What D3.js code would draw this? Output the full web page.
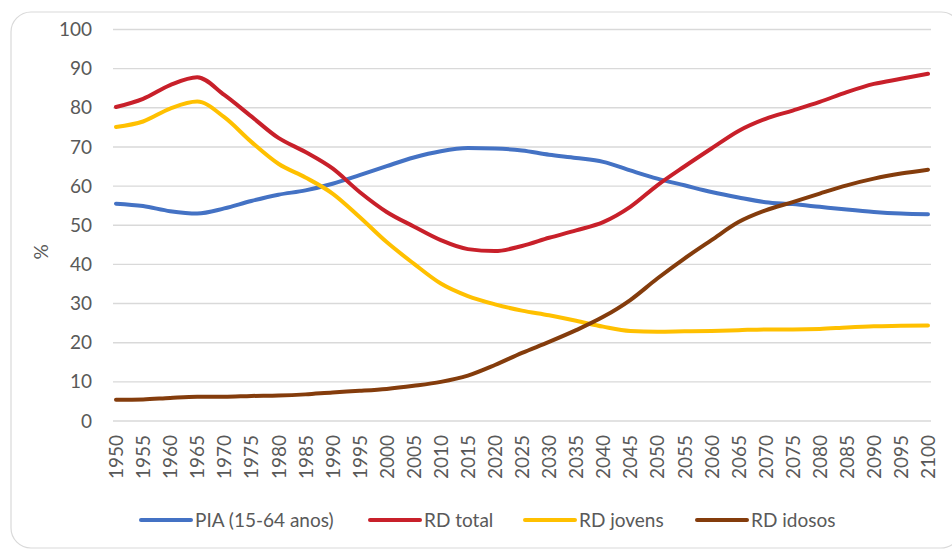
<!DOCTYPE html>
<html>
<head>
<meta charset="utf-8">
<script src="https://cdn.jsdelivr.net/npm/d3@7"></script>
<style>
  html, body { margin: 0; padding: 0; background: #ffffff; }
  svg { display: block; font-family: Lato, "Open Sans", sans-serif; }
</style>
</head>
<body>
<svg id="chart" width="952" height="550"></svg>
<script>
// Years on the horizontal axis (every 5 years)
const years = [1950,1955,1960,1965,1970,1975,1980,1985,1990,1995,2000,2005,2010,2015,2020,2025,
               2030,2035,2040,2045,2050,2055,2060,2065,2070,2075,2080,2085,2090,2095,2100];

// Working-age population share and dependency ratios (%)
const pia = [55.5,54.9,53.6,53.0,54.3,56.2,57.8,58.9,60.6,62.8,65.1,67.3,68.9,69.7,69.6,69.1,
             68.0,67.2,66.2,64.0,61.9,60.2,58.5,57.1,55.9,55.4,54.7,54.0,53.4,53.0,52.8];
const rdTotal = [80.2,82.3,85.8,87.8,83.3,77.8,72.3,68.7,64.5,58.5,53.4,49.7,46.2,43.9,43.4,44.7,
                 46.8,48.7,50.8,54.7,60.2,65.0,69.6,74.1,77.2,79.3,81.5,84.0,86.1,87.4,88.7];
const rdJovens = [75.1,76.5,79.8,81.6,77.6,71.3,65.7,62.2,58.1,52.1,45.7,40.2,35.1,31.9,29.8,28.2,
                  27.0,25.6,24.1,23.0,22.8,22.9,23.0,23.2,23.4,23.4,23.5,23.9,24.2,24.3,24.4];
const rdIdosos = [5.4,5.5,5.9,6.2,6.2,6.4,6.5,6.8,7.3,7.7,8.2,9.0,10.0,11.6,14.3,17.4,
                  20.2,23.2,26.6,30.9,36.4,41.5,46.2,50.8,53.8,55.9,58.1,60.2,61.9,63.2,64.2];

const seriesNames = ["PIA (15-64 anos)", "RD total", "RD jovens", "RD idosos"];
const seriesValues = [pia, rdTotal, rdJovens, rdIdosos];
const seriesColors = ["#4472C4", "#C8202A", "#FFC000", "#843C0C"];

const yTicks = [0,10,20,30,40,50,60,70,80,90,100];

const svg = d3.select("#chart");
const fontSize = 19;

// Card background with rounded border
svg.append("rect")
  .attr("x", 11).attr("y", 12)
  .attr("width", 950).attr("height", 536)
  .attr("rx", 20).attr("ry", 20)
  .attr("fill", "#ffffff")
  .attr("stroke", "#d9d9d9")
  .attr("stroke-width", 1.2);

const plotLeft = 113, plotRight = 931;
const x = d3.scaleLinear().domain([1950, 2100]).range([116, 928]);
const y = d3.scaleLinear().domain([0, 100]).range([421, 29.5]);

// Horizontal gridlines
svg.append("g")
  .selectAll("line")
  .data(yTicks)
  .join("line")
  .attr("x1", plotLeft).attr("x2", plotRight)
  .attr("y1", d => y(d)).attr("y2", d => y(d))
  .attr("stroke", "#d9d9d9")
  .attr("stroke-width", 1.4);

// Y axis labels
const yAxis = d3.axisLeft(y).tickValues(yTicks).tickSize(0).tickPadding(0);
svg.append("g")
  .attr("transform", "translate(92,0)")
  .call(yAxis)
  .call(g => g.select(".domain").remove())
  .call(g => g.selectAll("text")
    .attr("fill", "#595959")
    .attr("font-size", fontSize)
    .attr("font-family", "Lato, 'Open Sans', sans-serif"));

// X axis labels, rotated
const xAxis = d3.axisBottom(x).tickValues(years).tickFormat(d3.format("d")).tickSize(0);
svg.append("g")
  .attr("transform", "translate(0,435)")
  .call(xAxis)
  .call(g => g.select(".domain").remove())
  .call(g => g.selectAll("text")
    .attr("fill", "#595959")
    .attr("font-size", fontSize)
    .attr("font-family", "Lato, 'Open Sans', sans-serif")
    .attr("transform", "rotate(-90)")
    .attr("x", 0).attr("y", 0).attr("dy", "0.35em")
    .attr("text-anchor", "end"));

// Y axis title
svg.append("text")
  .attr("transform", "translate(41,252) rotate(-90)")
  .attr("text-anchor", "middle")
  .attr("dy", "0.35em")
  .attr("fill", "#595959")
  .attr("font-size", fontSize)
  .text("%");

// Series lines
const line = d3.line()
  .x((d, i) => x(years[i]))
  .y(d => y(d))
  .curve(d3.curveMonotoneX);

svg.append("g")
  .selectAll("path")
  .data(seriesValues)
  .join("path")
  .attr("d", d => line(d))
  .attr("fill", "none")
  .attr("stroke", (d, i) => seriesColors[i])
  .attr("stroke-width", 4)
  .attr("stroke-linecap", "round")
  .attr("stroke-linejoin", "round");

// Legend
const legendX = [141, 370, 525, 697];
const legend = svg.append("g")
  .selectAll("g")
  .data(seriesNames)
  .join("g")
  .attr("transform", (d, i) => `translate(${legendX[i]},520)`);

legend.append("line")
  .attr("x1", 0).attr("x2", 50)
  .attr("stroke", (d, i) => seriesColors[i])
  .attr("stroke-width", 4)
  .attr("stroke-linecap", "round");

legend.append("text")
  .attr("x", 54)
  .attr("dy", "0.35em")
  .attr("fill", "#595959")
  .attr("font-size", fontSize)
  .text(d => d);
</script>
</body>
</html>
